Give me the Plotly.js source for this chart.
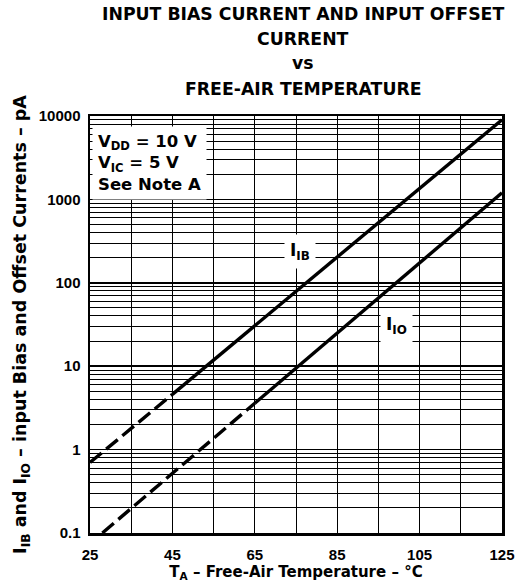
<!DOCTYPE html>
<html>
<head>
<meta charset="utf-8">
<script src="https://cdn.plot.ly/plotly-3.0.1.min.js"></script>
<style>html,body{margin:0;padding:0;background:#fff;}#chart{width:517px;height:582px;}</style>
</head>
<body>
<div id="chart"></div>
<script>
// Data (temperature in °C, current in pA)
const tempIBDashed = [25, 45];
const ibDashed = [0.7, 4.6];
const tempIBSolid = [45, 125];
const ibSolid = [4.6, 9000];
const tempIODashed = [28, 65];
const ioDashed = [0.1, 3.6];
const tempIOSolid = [65, 125];
const ioSolid = [3.6, 1200];

const xTickVals = [25, 45, 65, 85, 105, 125];
const xTickText = ['25', '45', '65', '85', '105', '125'];
const yTickVals = [0.1, 1, 10, 100, 1000, 10000];
const yTickText = ['0.1', '1', '10', '100', '1000', '10000'];

const titleLines = ['INPUT BIAS CURRENT AND INPUT OFFSET', 'CURRENT', 'vs', 'FREE-AIR TEMPERATURE'];
const noteText = 'V<sub>DD</sub> = 10 V<br>V<sub>IC</sub> = 5 V<br>See Note A';

const FONT = 'Liberation Sans, Arial, Helvetica, sans-serif';
const WIDE = 'DejaVu Sans, Liberation Sans, Arial, sans-serif';
const lineStyle = (dash) => ({color: '#000', width: 3.4, dash: dash});

const traces = [
  {x: tempIBDashed, y: ibDashed, mode: 'lines', line: lineStyle('15px,6px'), name: 'I_IB', showlegend: false, hoverinfo: 'skip'},
  {x: tempIBSolid, y: ibSolid, mode: 'lines', line: lineStyle('solid'), name: 'I_IB', showlegend: false, hoverinfo: 'skip'},
  {x: tempIODashed, y: ioDashed, mode: 'lines', line: lineStyle('15px,6px'), name: 'I_IO', showlegend: false, hoverinfo: 'skip'},
  {x: tempIOSolid, y: ioSolid, mode: 'lines', line: lineStyle('solid'), name: 'I_IO', showlegend: false, hoverinfo: 'skip'}
];

const titleY = [1.245, 1.185, 1.127, 1.065];
const annotations = titleLines.map((t, i) => ({
  text: t, xref: 'paper', yref: 'paper', x: 0.517, y: titleY[i],
  xanchor: 'center', yanchor: 'middle', showarrow: false,
  font: {family: WIDE, size: 17.3, color: '#000', weight: 700}
}));

annotations.push({
  text: noteText, xref: 'paper', yref: 'paper', x: 0.005, y: 0.975,
  xanchor: 'left', yanchor: 'top', align: 'left', showarrow: false,
  bgcolor: '#fff', borderpad: 5,
  font: {family: WIDE, size: 16.5, color: '#000', weight: 700}
});
annotations.push({
  text: 'I<sub>IB</sub>', x: 76, y: Math.log10(240), xref: 'x', yref: 'y',
  showarrow: false, bgcolor: '#fff', borderpad: 5,
  font: {family: WIDE, size: 17, color: '#000', weight: 700}
});
annotations.push({
  text: 'I<sub>IO</sub>', x: 99.5, y: Math.log10(31), xref: 'x', yref: 'y',
  showarrow: false, bgcolor: '#fff', borderpad: 5,
  font: {family: WIDE, size: 17, color: '#000', weight: 700}
});

const layout = {
  width: 517, height: 582,
  margin: {l: 90, r: 15, t: 116, b: 49},
  paper_bgcolor: '#fff', plot_bgcolor: '#fff',
  showlegend: false,
  font: {family: FONT, color: '#000', size: 14, weight: 700},
  xaxis: {
    range: [25, 125],
    tickvals: xTickVals, ticktext: xTickText,
    ticks: '', ticklabelstandoff: 6,
    showgrid: true, gridcolor: '#000', gridwidth: 1,
    minor: {tick0: 25, dtick: 10, showgrid: true, gridcolor: '#000', gridwidth: 1, ticks: ''},
    showline: true, linecolor: '#000', linewidth: 2.5, mirror: true,
    zeroline: false,
    tickfont: {family: FONT, size: 15, color: '#000', weight: 700},
    title: {text: 'T<sub>A</sub> – Free-Air Temperature – °C', standoff: 4,
            font: {family: WIDE, size: 15, color: '#000', weight: 700}}
  },
  yaxis: {
    type: 'log', range: [-1, 4],
    tickvals: yTickVals, ticktext: yTickText,
    ticks: '', ticklabelstandoff: 4,
    showgrid: true, gridcolor: '#000', gridwidth: 1.5,
    minor: {dtick: 'D1', showgrid: true, gridcolor: '#000', gridwidth: 1, ticks: ''},
    showline: true, linecolor: '#000', linewidth: 2.5, mirror: true,
    zeroline: false,
    tickfont: {family: FONT, size: 15, color: '#000', weight: 700},
    title: {text: 'I<sub>IB</sub> and I<sub>IO</sub> – input Bias and Offset Currents – pA', standoff: 8,
            font: {family: WIDE, size: 17.5, color: '#000', weight: 700}}
  },
  annotations: annotations
};

Plotly.newPlot('chart', traces, layout, {displayModeBar: false, staticPlot: true});
</script>
</body>
</html>
